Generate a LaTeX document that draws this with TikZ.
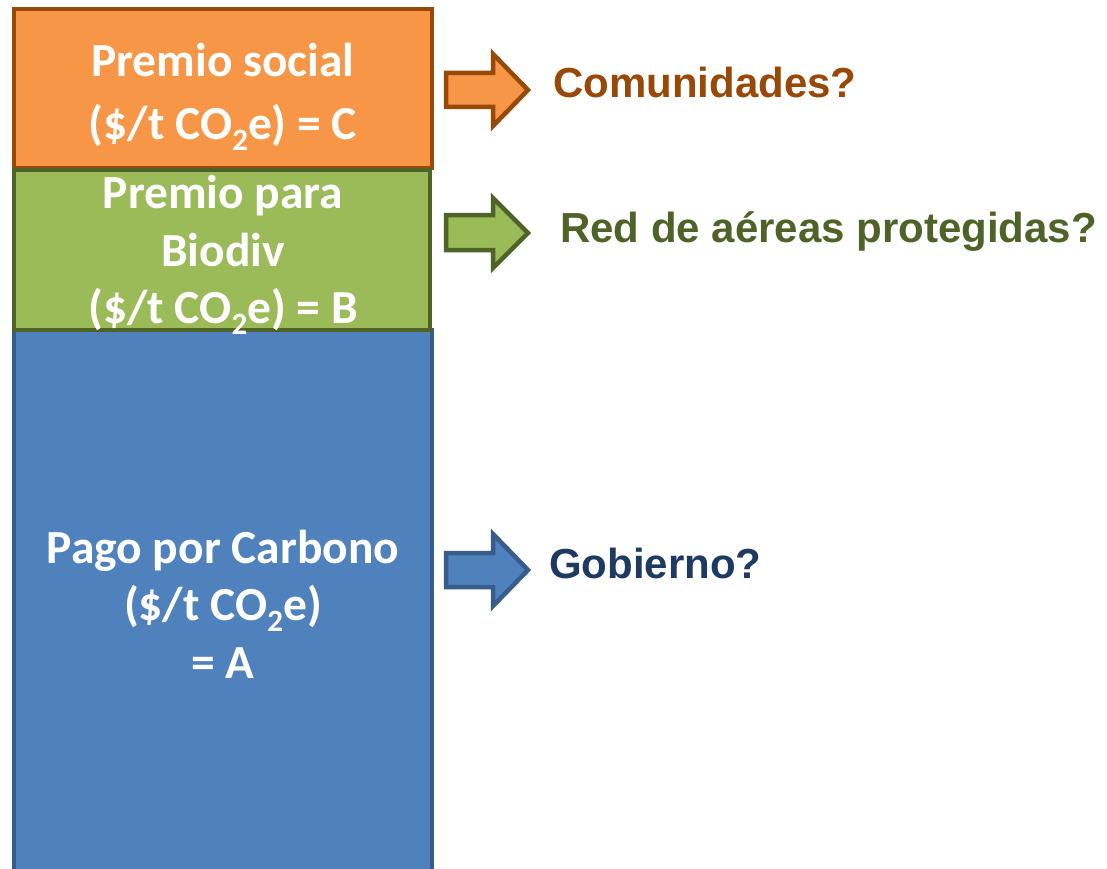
\documentclass[tikz,border=0pt]{standalone}
\usepackage{fontspec}
\setmainfont{Carlito}
\newfontfamily\arialb{Liberation Sans}[BoldFont=* Bold]
\definecolor{orfill}{HTML}{F79646}
\definecolor{ordraw}{HTML}{984807}
\definecolor{grfill}{HTML}{9BBB59}
\definecolor{grdraw}{HTML}{4F6228}
\definecolor{blfill}{HTML}{4F81BD}
\definecolor{bldraw}{HTML}{385D8A}
\definecolor{bltext}{HTML}{1F3A60}
\newcommand{\cotwo}{CO\raisebox{-0.22em}{\fontsize{31}{31}\selectfont 2}e}
\tikzset{
  band/.style={line width=4.5pt},
  boxtext/.style={text=white, font=\fontsize{47.5}{57.5}\selectfont\bfseries, align=center, inner sep=0pt},
  sidetext/.style={font=\arialb\bfseries\fontsize{42}{50}\selectfont, anchor=west, inner sep=0pt},
  bigarrow/.style={line width=4.5pt, line join=miter}
}
\begin{document}
\begin{tikzpicture}[x=1pt,y=-1pt]
\clip (0,0) rectangle (1107,869);
\fill[white] (0,0) rectangle (1107,869);
% bands
\draw[band, fill=blfill, draw=bldraw] (14,330) rectangle (432,900);
\draw[band, fill=orfill, draw=ordraw] (14,9) rectangle (432,168);
\draw[band, fill=grfill, draw=grdraw] (14,170) rectangle (430,330);
% box texts
\node[boxtext, font=\fontsize{47.5}{63}\selectfont\bfseries] (soc) at (223,97) {Premio social\\(\$/t \cotwo) = C};
\node[boxtext] (bio) at (223,255) {Premio para\\Biodiv\\(\$/t \cotwo) = B};
\node[boxtext] (car) at (223,604) {Pago por Carbono\\(\$/t \cotwo)\\= A};
% arrows
\draw[bigarrow, fill=orfill, draw=ordraw] (446,73) -- (493,73) -- (493,54) -- (528,90) -- (493,126) -- (493,107) -- (446,107) -- cycle;
\draw[bigarrow, fill=grfill, draw=grdraw] (446,215) -- (493,215) -- (493,198) -- (528,233) -- (493,268) -- (493,250) -- (446,250) -- cycle;
\draw[bigarrow, fill=blfill, draw=bldraw] (446,553) -- (493,553) -- (493,534) -- (528,570) -- (493,606) -- (493,587) -- (446,587) -- cycle;
% side labels
\node[sidetext, text=ordraw] (com) at (553,82) {Comunidades?};
\node[sidetext, text=grdraw] (red) at (560,232) {Red de aéreas protegidas?};
\node[sidetext, text=bltext] (gob) at (549,563) {Gobierno?};
\end{tikzpicture}
\end{document}
